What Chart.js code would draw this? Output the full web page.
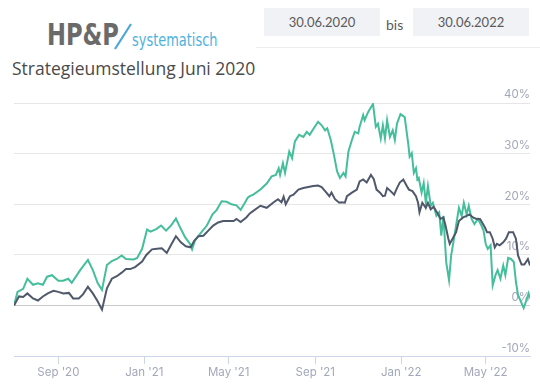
<!DOCTYPE html>
<html>
<head>
<meta charset="utf-8">
<script src="https://cdn.jsdelivr.net/npm/chart.js@4.4.1/dist/chart.umd.min.js"></script>
<style>
  html, body { margin: 0; padding: 0; background: #fff; }
  body { width: 540px; height: 387px; position: relative; overflow: hidden; font-family: 'Open Sans', sans-serif; }
  .logo-hpp { position: absolute; left: 47px; top: 17px; font-family: 'Liberation Sans Narrow', 'DejaVu Sans Condensed', sans-serif; font-weight: bold; font-size: 30px; color: #6a6a6a; transform: scaleX(0.84); transform-origin: left top; }
  .logo-slash { position: absolute; left: 112px; top: 22px; }
  .logo-sys { position: absolute; left: 132px; top: 29px; font-family: 'Liberation Sans Narrow', 'DejaVu Sans Condensed', sans-serif; font-size: 18px; color: #4fb2dc; transform: scaleX(0.8); transform-origin: left top; }
  .subtitle { position: absolute; left: 12px; top: 56px; font-size: 17.5px; color: #4a4a4a; }
  .datebox { position: absolute; top: 8px; width: 116px; height: 28px; background: #f1f2f6; color: #5a5a5a; font-family: 'Lato', sans-serif; font-size: 13px; line-height: 28px; text-align: center; }
  .bis { position: absolute; left: 386px; top: 16px; font-family: 'Lato', sans-serif; font-size: 14px; color: #5a5a5a; }
  .rule { position: absolute; left: 256px; top: 47px; width: 284px; height: 1px; background: #eceef2; }
  #wrap { position: absolute; left: 0; top: 80px; width: 540px; height: 307px; }
</style>
</head>
<body>
<div class="logo-hpp">HP&amp;P</div>
<svg class="logo-slash" width="22" height="30"><line x1="3" y1="27" x2="19" y2="2" stroke="#4aa8d8" stroke-width="2.2"/></svg>
<div class="logo-sys">systematisch</div>
<div class="subtitle">Strategieumstellung Juni 2020</div>
<div class="datebox" style="left:264px">30.06.2020</div>
<div class="bis">bis</div>
<div class="datebox" style="left:413px">30.06.2022</div>
<div class="rule"></div>
<div id="wrap"><canvas id="chart" width="540" height="307"></canvas></div>

<script>
// days since 30.06.2020, performance in %
const greenDays = [0,5,13,19,27,34,41,47,54,63,70,77,82,94,105,112,119,125,132,139,146,153,159,170,175,182,189,194,202,209,216,223,230,236,243,250,253,257,264,274,282,288,295,302,309,316,322,328,332,335,340,350,359,366,372,376,378,382,385,391,395,399,405,411,416,420,425,432,437,442,445,450,454,459,463,468,471,475,480,484,489,491,496,498,503,506,510,514,517,521,524,527,530,534,538,541,544,549,555,560,562,565,568,571,573,575,579,582,585,588,592,595,600,604,607,610,614,618,621,625,628,632,636,639,643,646,650,654,659,664,667,670,673,677,680,684,687,691,695,698,702,706,710,713,716,719,724,728,731,733];
const greenVals = [0,2.7,3.3,5.3,4.1,4.4,4.1,5.7,6.0,4.9,4.9,5.3,4.5,7.0,9.0,7.0,4.4,3.1,8.0,8.8,9.2,9.9,9.2,9.1,9.4,11.2,15.0,14.6,15.1,15.8,14.8,15.8,17.2,15.4,13.5,12.2,11.1,12.8,14.1,15.8,18.0,18.9,20.6,20.5,20.0,19.8,18.9,20.3,21.3,21.6,21.9,22.9,24.1,25.5,25.8,27.1,25.8,28.1,26.2,30.4,29.1,32.4,33.7,33.3,34.3,33.7,34.8,36.3,35.6,34.6,35.0,32.7,30.1,26.5,25.2,26.2,25.5,30.4,32.7,34.3,34.0,35.3,37.6,36.6,38.2,38.9,39.8,35.3,35.9,33.0,35.6,33.0,36.6,33.3,34.6,32.7,35.9,37.8,37.2,32.0,29.4,30.1,26.2,27.1,24.9,25.2,22.3,24.2,20.3,23.6,19.7,20.3,17.7,18.4,13.8,17.7,8.5,5.0,9.9,13.2,15.8,19.3,17.7,20.3,18.0,19.7,17.1,16.1,17.1,15.8,14.8,12.2,11.2,11.9,4.0,6.0,7.0,5.3,7.9,6.0,9.4,9.2,8.6,4.7,2.1,1.1,-0.5,1.1,2.4,1.4];

const grayDays = [0,7,13,19,27,34,41,48,56,63,70,78,84,92,98,105,112,119,125,132,139,146,153,159,165,172,182,188,196,203,210,217,224,230,237,244,251,256,262,269,276,283,290,297,305,312,316,322,330,335,340,350,359,368,375,380,383,386,392,397,404,411,418,425,432,437,442,448,451,456,462,465,470,473,480,487,491,496,501,507,511,515,520,524,527,530,535,540,544,548,553,558,561,566,571,574,576,580,585,588,592,596,601,606,610,613,617,619,623,628,632,638,643,647,652,657,662,665,669,672,676,680,683,686,690,695,699,703,709,713,716,721,725,730,733];
const grayVals = [0,1.8,1.7,2.4,1.4,1.0,1.8,2.4,2.9,2.7,2.4,2.5,1.4,1.4,2.2,3.7,2.4,0.8,-0.8,3.4,5.3,5.8,6.5,7.2,7.2,7.6,8.7,10.0,11.1,11.2,11.3,10.4,12.2,13.7,12.5,11.7,11.5,12.8,13.7,13.8,14.8,15.8,16.4,16.7,16.7,16.7,17.1,16.5,17.4,18.2,18.7,19.7,19.3,20.3,21.0,20.4,21.5,20.0,21.6,21.9,22.9,23.2,23.4,23.6,23.7,23.4,22.6,21.6,22.3,21.0,20.3,20.4,20.3,21.6,22.3,22.9,24.5,24.9,24.3,25.8,25.0,22.9,22.3,21.6,21.7,23.2,22.6,21.9,23.2,24.3,24.9,23.6,22.9,22.6,21.6,20.3,18.4,20.3,19.3,20.3,19.0,19.5,18.4,17.1,17.4,15.8,13.2,12.2,13.2,14.5,16.7,17.4,17.7,18.0,17.4,17.1,17.1,16.4,15.4,14.5,14.5,13.2,11.5,12.2,11.9,12.5,13.2,14.5,14.5,13.2,9.9,8.1,8.1,9.2,7.9];

// x-axis: first of month, days since 30.06.2020
const tickDays = [63, 185, 305, 428, 550, 670];
const tickLabels = ["Sep '20", "Jan '21", "May '21", "Sep '21", "Jan '22", "May '22"];
const yTicks = [-10, 0, 10, 20, 30, 40];

const toPoints = (xs, ys) => xs.map((x, i) => ({ x: x, y: ys[i] }));

new Chart(document.getElementById('chart'), {
    type: 'line',
    data: {
        datasets: [
            {
                label: 'Benchmark',
                data: toPoints(grayDays, grayVals),
                borderColor: '#50586c',
                borderWidth: 2,
                pointRadius: 0,
                tension: 0
            },
            {
                label: 'HP&P systematisch',
                data: toPoints(greenDays, greenVals),
                borderColor: '#45be9b',
                borderWidth: 2,
                pointRadius: 0,
                tension: 0
            }
        ]
    },
    options: {
        responsive: false,
        animation: false,
        layout: { padding: { left: 14, right: 10, top: 23, bottom: 7 } },
        plugins: { legend: { display: false }, tooltip: { enabled: false } },
        scales: {
            x: {
                type: 'linear',
                min: 0,
                max: 733,
                afterBuildTicks: axis => { axis.ticks = tickDays.map(v => ({ value: v })); },
                ticks: {
                    autoSkip: false,
                    maxRotation: 0,
                    padding: 1,
                    color: '#a3a7ba',
                    font: { family: 'Inter', size: 11.5 },
                    callback: (v) => tickLabels[tickDays.indexOf(v)]
                },
                grid: { drawOnChartArea: false, drawTicks: true, tickLength: 8, color: '#ccd6eb' },
                border: { display: true, color: '#ccd6eb', width: 1 }
            },
            y: {
                position: 'right',
                min: -10,
                max: 40,
                afterBuildTicks: axis => { axis.ticks = yTicks.map(v => ({ value: v })); },
                ticks: {
                    mirror: true,
                    padding: 0,
                    labelOffset: -8,
                    color: '#a3a7ba',
                    font: { family: 'Inter', size: 11.5 },
                    callback: v => v + '%'
                },
                grid: {
                    drawTicks: false,
                    color: ctx => ctx.tick.value === 0 ? '#c9c9c9' : (ctx.tick.value === -10 ? '#ccd6eb' : '#e6e6e6')
                },
                border: { display: false }
            }
        }
    }
});
</script>
</body>
</html>
